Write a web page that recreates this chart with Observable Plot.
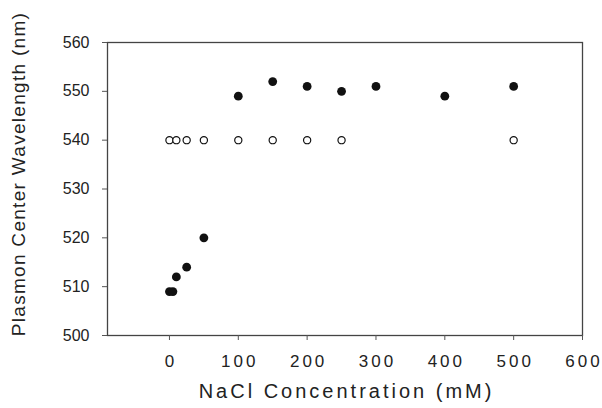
<!DOCTYPE html>
<html><head><meta charset="utf-8">
<script src="https://cdn.jsdelivr.net/npm/d3@7"></script>
<script src="https://cdn.jsdelivr.net/npm/@observablehq/plot@0.6"></script>
<style>
body{margin:0;background:#fff}
svg{font-family:"Liberation Sans",Arial,sans-serif}
</style></head><body><div id="c"></div>
<script>
const saltFilled = [0, 5, 10, 25, 50, 100, 150, 200, 250, 300, 400, 500];
const wlFilled = [509, 509, 512, 514, 520, 549, 552, 551, 550, 551, 549, 551];
const saltOpen = [0, 10, 25, 50, 100, 150, 200, 250, 500];
const wlOpen = [540, 540, 540, 540, 540, 540, 540, 540, 540];
const xTicks = [0, 100, 200, 300, 400, 500, 600];
const yTicks = [500, 510, 520, 530, 540, 550, 560];
const xTitle = "NaCl Concentration (mM)";
const yTitle = "Plasmon Center Wavelength (nm)";

const filled = saltFilled.map((s, i) => ({salt: s, wl: wlFilled[i]}));
const open = saltOpen.map((s, i) => ({salt: s, wl: wlOpen[i]}));

const chart = Plot.plot({
  width: 602, height: 408,
  marginLeft: 107, marginRight: 20, marginTop: 42, marginBottom: 73,
  x: {domain: [-90, 600]},
  y: {domain: [500, 560]},
  style: {fontFamily: '"Liberation Sans",Arial,sans-serif', color: "#222", background: "#fff"},
  marks: [
    Plot.frame({stroke: "#444", strokeWidth: 1.3}),
    Plot.axisX(xTicks, {tickSize: 5, tickPadding: 14, fontSize: 17, label: null, stroke: "#555", fill: "#222"}),
    Plot.axisY(yTicks, {tickSize: 5, tickPadding: 13, fontSize: 16, label: null, stroke: "#555", fill: "#222"}),
    Plot.dot(open, {x: "salt", y: "wl", r: 3.6, fill: "#fff", stroke: "#111", strokeWidth: 1.2}),
    Plot.dot(filled, {x: "salt", y: "wl", r: 4.4, fill: "#111", stroke: "none"}),
    Plot.text([xTitle], {frameAnchor: "bottom", textAnchor: "middle", dy: 62, dx: 1.5, fontSize: 20, fill: "#222"}),
    Plot.text([yTitle], {frameAnchor: "left", textAnchor: "middle", rotate: -90, dx: -89, dy: -15, fontSize: 19, fill: "#222"})
  ]
});
const s = d3.select(chart);
s.selectAll('g[aria-label="x-axis tick label"] text').style("letter-spacing", "3px").attr("dx", 1.5);
s.selectAll("text").filter(function() { return this.textContent === xTitle; }).style("letter-spacing", "3px");
s.selectAll("text").filter(function() { return this.textContent === yTitle; }).style("letter-spacing", "1.3px");
document.getElementById("c").appendChild(chart);
</script></body></html>
